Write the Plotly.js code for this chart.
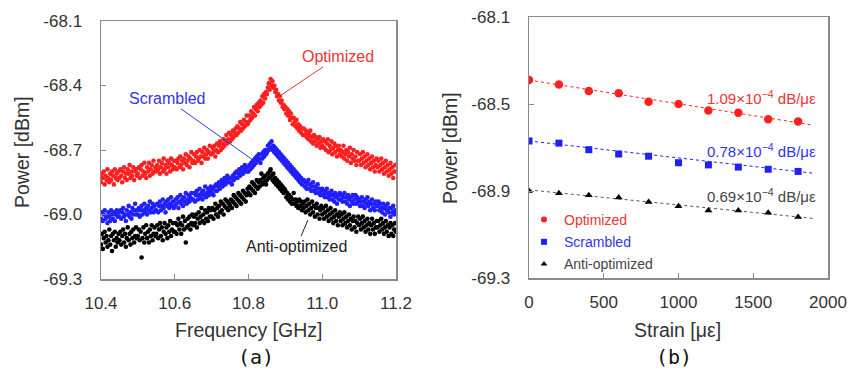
<!DOCTYPE html>
<html>
<head>
<meta charset="utf-8">
<script src="https://cdn.plot.ly/plotly-3.0.1.min.js"></script>
<style>html,body{margin:0;padding:0;background:#fff;}#chart{width:853px;height:374px;}</style>
</head>
<body>
<div id="chart"></div>
<script>
// ---------- Panel (a): spectra (10.4 to 11.2 GHz, 2.5 MHz sampling) ----------
var freqStart = 10.4, freqStep = 0.0025;
var optimizedSpectrum = [
-68.85,-68.81,-68.83,-68.80,-68.86,-68.82,-68.84,-68.79,-68.83,-68.85,-68.81,-68.84,-68.80,-68.82,-68.86,-68.79,-68.83,-68.81,-68.84,-68.80,
-68.83,-68.79,-68.82,-68.85,-68.80,-68.78,-68.83,-68.81,-68.84,-68.79,-68.81,-68.77,-68.83,-68.80,-68.82,-68.78,-68.84,-68.80,-68.79,-68.82,
-68.81,-68.78,-68.83,-68.79,-68.77,-68.82,-68.80,-68.76,-68.81,-68.83,-68.78,-68.80,-68.76,-68.82,-68.79,-68.77,-68.81,-68.75,-68.80,-68.78,
-68.80,-68.77,-68.79,-68.75,-68.81,-68.78,-68.76,-68.80,-68.74,-68.79,-68.77,-68.81,-68.75,-68.78,-68.76,-68.80,-68.74,-68.77,-68.79,-68.75,
-68.78,-68.75,-68.79,-68.76,-68.74,-68.78,-68.73,-68.77,-68.75,-68.79,-68.74,-68.76,-68.72,-68.77,-68.75,-68.73,-68.78,-68.74,-68.71,-68.76,
-68.75,-68.72,-68.76,-68.73,-68.71,-68.75,-68.74,-68.70,-68.73,-68.76,-68.71,-68.73,-68.69,-68.74,-68.72,-68.70,-68.74,-68.71,-68.68,-68.72,
-68.72,-68.69,-68.71,-68.68,-68.73,-68.70,-68.67,-68.71,-68.68,-68.66,-68.70,-68.67,-68.69,-68.65,-68.68,-68.66,-68.63,-68.67,-68.65,-68.62,
-68.66,-68.63,-68.65,-68.61,-68.64,-68.62,-68.60,-68.63,-68.59,-68.62,-68.60,-68.57,-68.61,-68.58,-68.60,-68.56,-68.59,-68.57,-68.54,-68.58,
-68.57,-68.54,-68.56,-68.52,-68.55,-68.53,-68.50,-68.54,-68.51,-68.49,-68.52,-68.48,-68.50,-68.47,-68.49,-68.45,-68.48,-68.44,-68.46,-68.43,
-68.44,-68.41,-68.39,-68.42,-68.37,-68.40,-68.38,-68.41,-68.40,-68.43,-68.42,-68.45,-68.44,-68.47,-68.45,-68.48,-68.47,-68.50,-68.49,-68.51,
-68.50,-68.53,-68.51,-68.54,-68.52,-68.56,-68.53,-68.55,-68.58,-68.55,-68.57,-68.59,-68.56,-68.60,-68.58,-68.61,-68.59,-68.62,-68.60,-68.63,
-68.60,-68.63,-68.61,-68.64,-68.62,-68.65,-68.63,-68.61,-68.66,-68.64,-68.67,-68.63,-68.66,-68.64,-68.68,-68.65,-68.67,-68.64,-68.69,-68.66,
-68.68,-68.65,-68.69,-68.66,-68.70,-68.67,-68.65,-68.71,-68.68,-68.70,-68.66,-68.72,-68.69,-68.67,-68.71,-68.68,-68.73,-68.70,-68.68,-68.72,
-68.70,-68.73,-68.71,-68.68,-68.74,-68.72,-68.70,-68.75,-68.71,-68.73,-68.69,-68.76,-68.72,-68.74,-68.70,-68.75,-68.73,-68.77,-68.71,-68.75,
-68.75,-68.72,-68.77,-68.74,-68.71,-68.76,-68.73,-68.78,-68.75,-68.72,-68.77,-68.74,-68.79,-68.76,-68.73,-68.78,-68.75,-68.80,-68.77,-68.74,
-68.78,-68.75,-68.80,-68.77,-68.74,-68.79,-68.76,-68.81,-68.78,-68.75,-68.80,-68.77,-68.82,-68.79,-68.76,-68.81,-68.78,-68.83,-68.80,-68.77,-68.80];
var scrambledSpectrum = [
-69.02,-68.99,-69.03,-69.00,-68.98,-69.02,-69.01,-69.04,-68.99,-69.01,-69.03,-68.98,-69.00,-69.02,-68.99,-69.03,-69.00,-68.98,-69.01,-68.99,
-69.01,-68.98,-69.02,-68.99,-68.97,-69.01,-69.00,-69.03,-68.98,-69.00,-68.96,-69.01,-68.99,-69.02,-68.97,-69.00,-68.98,-68.95,-69.00,-68.98,
-69.00,-68.97,-69.01,-68.98,-68.96,-69.00,-68.98,-68.95,-68.99,-68.97,-69.00,-68.96,-68.98,-68.94,-68.99,-68.97,-68.95,-68.99,-68.96,-68.98,
-68.98,-68.95,-68.99,-68.96,-68.94,-68.98,-68.96,-68.93,-68.97,-68.95,-68.99,-68.94,-68.96,-68.93,-68.97,-68.95,-68.92,-68.96,-68.94,-68.97,
-68.96,-68.93,-68.95,-68.92,-68.97,-68.94,-68.91,-68.95,-68.93,-68.96,-68.92,-68.94,-68.90,-68.95,-68.93,-68.91,-68.94,-68.92,-68.90,-68.93,
-68.93,-68.90,-68.94,-68.91,-68.89,-68.93,-68.91,-68.88,-68.92,-68.90,-68.93,-68.89,-68.91,-68.87,-68.92,-68.90,-68.88,-68.91,-68.89,-68.87,
-68.90,-68.88,-68.91,-68.87,-68.89,-68.86,-68.89,-68.87,-68.85,-68.88,-68.86,-68.84,-68.87,-68.85,-68.83,-68.86,-68.84,-68.82,-68.85,-68.83,
-68.85,-68.83,-68.86,-68.82,-68.84,-68.81,-68.83,-68.80,-68.83,-68.81,-68.79,-68.82,-68.80,-68.78,-68.81,-68.79,-68.77,-68.80,-68.78,-68.80,
-68.80,-68.77,-68.79,-68.76,-68.78,-68.75,-68.77,-68.74,-68.76,-68.73,-68.75,-68.72,-68.74,-68.76,-68.72,-68.74,-68.71,-68.73,-68.70,-68.72,
-68.71,-68.68,-68.70,-68.67,-68.69,-68.66,-68.70,-68.68,-68.71,-68.69,-68.72,-68.70,-68.73,-68.71,-68.74,-68.72,-68.75,-68.73,-68.76,-68.74,
-68.77,-68.75,-68.78,-68.76,-68.79,-68.77,-68.80,-68.78,-68.81,-68.79,-68.82,-68.80,-68.83,-68.81,-68.84,-68.82,-68.85,-68.83,-68.86,-68.84,
-68.84,-68.87,-68.85,-68.88,-68.86,-68.84,-68.88,-68.86,-68.89,-68.87,-68.85,-68.89,-68.87,-68.90,-68.88,-68.86,-68.90,-68.88,-68.91,-68.89,
-68.88,-68.91,-68.89,-68.92,-68.90,-68.88,-68.92,-68.90,-68.93,-68.91,-68.89,-68.93,-68.91,-68.94,-68.90,-68.92,-68.95,-68.91,-68.93,-68.90,
-68.93,-68.91,-68.94,-68.92,-68.90,-68.94,-68.92,-68.95,-68.91,-68.93,-68.96,-68.92,-68.94,-68.91,-68.95,-68.93,-68.91,-68.95,-68.92,-68.94,
-68.93,-68.96,-68.94,-68.92,-68.96,-68.94,-68.97,-68.93,-68.95,-68.92,-68.96,-68.94,-68.98,-68.95,-68.93,-68.97,-68.95,-68.98,-68.94,-68.96,
-68.96,-68.94,-68.98,-68.95,-68.97,-68.99,-68.95,-68.97,-69.00,-68.96,-68.98,-68.95,-68.99,-68.97,-69.01,-68.97,-68.99,-68.96,-69.00,-68.98,-68.99];
var antiSpectrum = [
-69.14,-69.09,-69.16,-69.11,-69.08,-69.13,-69.10,-69.15,-69.12,-69.07,-69.14,-69.10,-69.17,-69.09,-69.12,-69.08,-69.15,-69.11,-69.13,-69.09,
-69.12,-69.08,-69.14,-69.10,-69.07,-69.13,-69.09,-69.15,-69.11,-69.06,-69.12,-69.09,-69.14,-69.08,-69.11,-69.07,-69.13,-69.10,-69.06,-69.11,
-69.10,-69.07,-69.12,-69.08,-69.20,-69.11,-69.06,-69.13,-69.09,-69.05,-69.11,-69.08,-69.13,-69.07,-69.10,-69.05,-69.12,-69.09,-69.06,-69.10,
-69.09,-69.05,-69.11,-69.07,-69.04,-69.10,-69.06,-69.12,-69.08,-69.04,-69.09,-69.06,-69.11,-69.05,-69.08,-69.03,-69.10,-69.07,-69.04,-69.08,
-69.08,-69.04,-69.09,-69.05,-69.02,-69.07,-69.04,-69.09,-69.05,-69.01,-69.07,-69.03,-69.13,-69.06,-69.02,-69.05,-69.01,-69.07,-69.04,-69.00,
-69.05,-69.01,-69.04,-69.00,-69.06,-69.02,-68.99,-69.04,-69.01,-68.97,-69.03,-69.00,-69.04,-68.98,-69.02,-68.99,-69.03,-68.97,-69.01,-68.98,
-69.01,-68.97,-69.02,-68.98,-68.95,-69.00,-68.97,-69.01,-68.96,-68.99,-68.94,-68.98,-68.95,-69.00,-68.96,-68.93,-68.97,-68.94,-68.98,-68.95,
-68.96,-68.93,-68.97,-68.94,-68.91,-68.95,-68.92,-68.96,-68.93,-68.90,-68.94,-68.91,-68.95,-68.92,-68.89,-68.93,-68.90,-68.94,-68.91,-68.88,
-68.90,-68.87,-68.91,-68.88,-68.85,-68.89,-68.86,-68.90,-68.87,-68.84,-68.88,-68.85,-68.87,-68.84,-68.81,-68.86,-68.83,-68.85,-68.82,-68.86,
-68.84,-68.81,-68.83,-68.80,-68.79,-68.82,-68.84,-68.81,-68.85,-68.83,-68.86,-68.84,-68.87,-68.85,-68.88,-68.86,-68.89,-68.87,-68.90,-68.88,
-68.89,-68.92,-68.90,-68.93,-68.91,-68.94,-68.92,-68.95,-68.93,-68.90,-68.95,-68.93,-68.96,-68.94,-68.97,-68.93,-68.96,-68.94,-68.98,-68.95,
-68.97,-68.94,-68.99,-68.96,-68.93,-68.98,-68.95,-69.00,-68.97,-68.94,-68.99,-68.96,-69.01,-68.97,-68.95,-69.00,-68.97,-69.02,-68.98,-68.96,
-69.00,-68.97,-69.02,-68.99,-68.96,-69.01,-68.98,-69.03,-69.00,-68.97,-69.02,-68.99,-69.04,-69.01,-68.98,-69.03,-69.00,-69.05,-69.01,-68.99,
-69.03,-69.00,-69.05,-69.02,-68.99,-69.04,-69.01,-69.06,-69.03,-69.00,-69.05,-69.02,-69.07,-69.03,-69.01,-69.06,-69.03,-69.08,-69.04,-69.01,
-69.05,-69.02,-69.07,-69.04,-69.01,-69.06,-69.03,-69.08,-69.05,-69.02,-69.07,-69.04,-69.09,-69.05,-69.02,-69.07,-69.04,-69.09,-69.06,-69.03,
-69.06,-69.03,-69.08,-69.05,-69.02,-69.07,-69.04,-69.09,-69.06,-69.03,-69.08,-69.05,-69.10,-69.06,-69.04,-69.09,-69.05,-69.10,-69.07,-69.04,-69.08];
var freq = optimizedSpectrum.map(function(_, i){ return +(freqStart + i*freqStep).toFixed(4); });
var freqTicks = [10.4, 10.6, 10.8, 11.0, 11.2];
var freqTickText = ['10.4','10.6','10.8','11.0','11.2'];
var powerTicksA = [-69.3, -69.0, -68.7, -68.4, -68.1];
var powerTickTextA = ['-69.3','-69.0','-68.7','-68.4','-68.1'];

// ---------- Panel (b): strain ----------
var strain = [0,200,400,600,800,1000,1200,1400,1600,1800];
var optimizedPower = [-68.39,-68.41,-68.44,-68.45,-68.49,-68.50,-68.53,-68.54,-68.57,-68.58];
var scrambledPower = [-68.67,-68.68,-68.71,-68.73,-68.74,-68.77,-68.78,-68.79,-68.80,-68.81];
var antiPower = [-68.90,-68.91,-68.92,-68.93,-68.95,-68.97,-68.99,-68.99,-69.00,-69.02];
var fitIntercepts = [-68.39,-68.67,-68.895];
var fitSlopes = [-1.09e-4,-0.78e-4,-0.69e-4];
var fitRange = [0,1900];
var strainTicks = [0,500,1000,1500,2000];
var powerTicksB = [-69.3,-68.9,-68.5,-68.1];
var powerTickTextB = ['-69.3','-68.9','-68.5','-68.1'];
var slopeLabels = ['1.09×10<sup>−4</sup> dB/με','0.78×10<sup>−4</sup> dB/με','0.69×10<sup>−4</sup> dB/με'];
var seriesNames = ['Optimized','Scrambled','Anti-optimized'];

var RED = '#ff1f1f', BLUE = '#1f1fff', BLACK = '#000000';
var txtRed = '#ee3333', txtBlue = '#3333ee', txtGray = '#444444';
var colors = [RED, BLUE, BLACK];
var txtColors = [txtRed, txtBlue, txtGray];
var symbols = ['circle','square','triangle-up'];
var FONT = 'Liberation Sans, Arial, sans-serif';

var traces = [];
[optimizedSpectrum, scrambledSpectrum, antiSpectrum].forEach(function(s, k){
  traces.push({x: freq, y: s, type:'scatter', mode:'markers', xaxis:'x', yaxis:'y',
    marker:{color: colors[k], size:4.6}, showlegend:false, hoverinfo:'skip'});
});
[optimizedPower, scrambledPower, antiPower].forEach(function(s, k){
  traces.push({x: fitRange, y: fitRange.map(function(v){ return fitIntercepts[k] + fitSlopes[k]*v; }),
    type:'scatter', mode:'lines', xaxis:'x2', yaxis:'y2',
    line:{color: k===2 ? '#555' : colors[k], width:1, dash:'dot'}, showlegend:false});
  traces.push({x: strain, y: s, type:'scatter', mode:'markers', xaxis:'x2', yaxis:'y2',
    marker:{color: colors[k], size: k===0 ? 8.5 : 7, symbol: symbols[k]}, showlegend:false});
  traces.push({x:[null], y:[null], type:'scatter', mode:'markers', xaxis:'x2', yaxis:'y2',
    name:'<span style="color:' + txtColors[k] + '">' + seriesNames[k] + '</span>',
    legendgroup:'g'+k, marker:{color: colors[k], size:6, symbol: symbols[k]}, showlegend:true});
});

var axisCommon = {showline:true, mirror:true, linecolor:'#8a8a8a', linewidth:1.5,
  ticks:'inside', ticklen:5, tickcolor:'#8a8a8a', showgrid:false, zeroline:false,
  tickfont:{family:FONT, size:17, color:'#333'}, fixedrange:true, tickmode:'array'};

function ax(o){ var r = {}; for (var k in axisCommon) r[k] = axisCommon[k]; for (var k2 in o) r[k2] = o[k2]; return r; }

var W = 853, H = 374;
function px(x){ return x / W; }
function py(y){ return (H - y) / H; }
function lbl(x, y, text, font, extra){
  var a = {xref:'paper', yref:'paper', x:px(x), y:py(y), xanchor:'center', yanchor:'middle', text:text, showarrow:false, font:font};
  if (extra) for (var k in extra) a[k] = extra[k];
  return a;
}
var titleFont = {family:FONT, size:19.5, color:'#333'};
var capFont = {family:'DejaVu Sans Mono, monospace', size:20, color:'#111'};

var annotations = [
  lbl(248, 330, 'Frequency [GHz]', titleFont),
  lbl(677, 330, 'Strain [με]', titleFont),
  lbl(22, 152, 'Power [dBm]', titleFont, {textangle:-90}),
  lbl(450, 148, 'Power [dBm]', titleFont, {textangle:-90}),
  lbl(256, 357, '(a)', capFont),
  lbl(674, 357, '(b)', capFont),
  {xref:'x', yref:'y', x:10.877, y:-68.458, ax:61, ay:-41, text:'Optimized', showarrow:true, arrowhead:0, arrowwidth:1, arrowcolor:txtRed, font:{family:FONT, size:16, color:txtRed}},
  {xref:'x', yref:'y', x:10.823, y:-68.760, ax:-90, ay:-64, text:'Scrambled', showarrow:true, arrowhead:0, arrowwidth:1, arrowcolor:txtBlue, font:{family:FONT, size:16, color:txtBlue}},
  {xref:'x', yref:'y', x:10.961, y:-69.026, ax:-11, ay:26, text:'Anti-optimized', showarrow:true, arrowhead:0, arrowwidth:1, arrowcolor:'#222', font:{family:FONT, size:16, color:'#222'}}
];
var slopeY = [97, 150, 195];
slopeLabels.forEach(function(t, k){
  annotations.push(lbl(818, slopeY[k], t, {family:FONT, size:15, color:txtColors[k]}, {xanchor:'right'}));
});

var layout = {
  width:W, height:H, margin:{l:0, r:0, t:0, b:0}, paper_bgcolor:'#fff', plot_bgcolor:'#fff',
  showlegend:true,
  xaxis: ax({domain:[px(101), px(396)], range:[10.4, 11.2], tickvals:freqTicks, ticktext:freqTickText, anchor:'y', ticklabelstandoff:8}),
  yaxis: ax({domain:[py(279), py(21)], range:[-69.3, -68.1], tickvals:powerTicksA, ticktext:powerTickTextA, anchor:'x', ticklabelstandoff:14}),
  xaxis2: ax({domain:[px(529), px(828)], range:[0, 2000], tickvals:strainTicks, ticktext:strainTicks.map(String), anchor:'y2', ticklabelstandoff:8}),
  yaxis2: ax({domain:[py(278), py(17)], range:[-69.3, -68.1], tickvals:powerTicksB, ticktext:powerTickTextB, anchor:'x2', ticklabelstandoff:14}),
  legend:{x:px(524), y:py(204), xanchor:'left', yanchor:'top', bgcolor:'rgba(0,0,0,0)', borderwidth:0,
    font:{family:FONT, size:14, color:'#222'}, tracegroupgap:1, itemwidth:30},
  annotations: annotations
};

Plotly.newPlot('chart', traces, layout, {staticPlot:true, displayModeBar:false});
</script>
</body>
</html>
